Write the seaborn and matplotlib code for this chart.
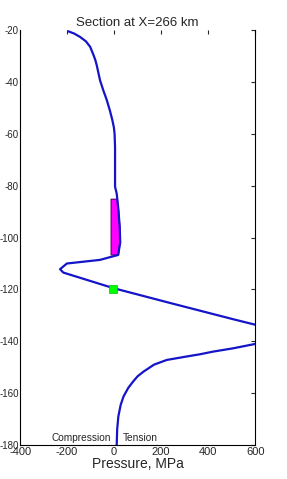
import numpy as np
import pandas as pd
import seaborn as sns
import matplotlib
matplotlib.use("Agg")
import matplotlib.pyplot as plt

# ---- data (pressure in MPa, depth in km)
pressure = [-196, -170, -145, -120, -102, -88, -80, -74, -67, -60, -46, -31,
            -18, -8, -1, 2, 4, 4, 4, 11, 18, 24, 26, 17,
            -60, -201, -230, -216, -3, 250, 507, 640, 700, 640,
            507, 420, 366, 300, 224, 170, 125, 100, 81, 60, 40, 28, 18, 13, 11]
depth = [-20.4, -21.3, -22.6, -24.3, -26.4, -29.5, -31.5, -33.5, -36.4, -39.3,
         -43.2, -47, -51, -54.5, -57.5, -60, -65, -70, -80.4, -83, -89, -96,
         -102, -106.7, -108.6, -110, -112.2, -113.5, -119.5, -125.5, -131.5,
         -134.5, -137.5, -140.3, -142.7, -144, -145, -146, -147.2, -149,
         -151.7, -153.5, -155.5, -158, -161.3, -164.5, -169, -174, -180]

# magenta zone and green marker
zone_depth = [-85, -90, -95, -100, -106.5]
zone_left = [-15, -15, -15, -15, -15]
zone_right = [12, 18, 22, 24, 17]
marker_p = [-4]
marker_d = [-120]

xticks = [-400, -200, 0, 200, 400, 600]
yticks = [-20, -40, -60, -80, -100, -120, -140, -160, -180]

sns.set_style("white")
plt.rcParams["font.family"] = ["Liberation Sans", "DejaVu Sans"]
plt.rcParams["axes.unicode_minus"] = False

df = pd.DataFrame({"pressure": pressure, "depth": depth})

fig = plt.figure(figsize=(2.87, 4.79), dpi=100)
ax = fig.add_axes([0.07, 0.071, 0.819, 0.866])

ax.fill_betweenx(zone_depth, zone_left, zone_right, color="#ff00ff",
                 edgecolor="#600060", linewidth=0.8, zorder=2)
sns.lineplot(data=df, x="pressure", y="depth", sort=False, estimator=None,
             color="#1414c8", linewidth=1.6, ax=ax, zorder=3)
sns.scatterplot(x=marker_p, y=marker_d, marker="s", s=40, color="#00ff00",
                edgecolor="#00c000", linewidth=0.5, ax=ax, zorder=4)

ax.set_xlim(-400, 600)
ax.set_ylim(-180, -20)
ax.set_xticks(xticks)
ax.set_yticks(yticks)
ax.tick_params(direction="in", length=3, labelsize=8, pad=1.5,
               top=True, right=True)
ax.tick_params(axis="y", labelsize=7, pad=1)
ax.spines["top"].set_visible(False)
for s in ["left", "right", "bottom"]:
    ax.spines[s].set_color("black")
    ax.spines[s].set_linewidth(0.8)

ax.set_title("Section at X=266 km", fontsize=9.5, pad=3)
ax.set_xlabel("Pressure, MPa", fontsize=10, labelpad=0)
ax.set_ylabel("")

ax.text(-12, -177.3, "Compression", fontsize=7.3, ha="right", va="center")
ax.text(36, -177.3, "Tension", fontsize=7.3, ha="left", va="center")

fig.savefig("out.png", dpi=100)
